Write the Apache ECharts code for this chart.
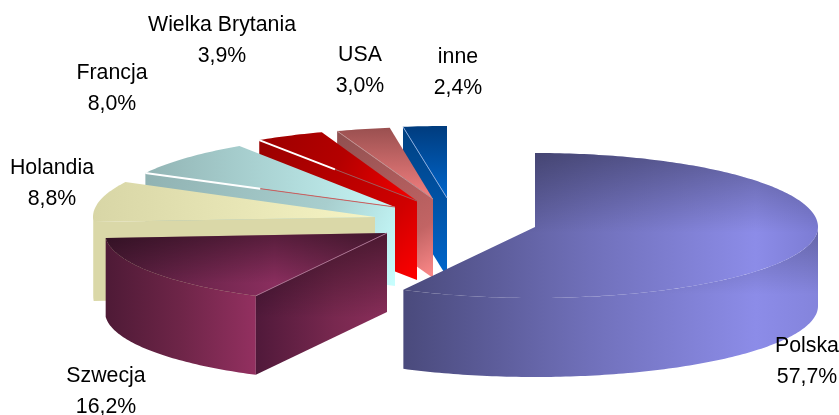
<!DOCTYPE html>
<html>
<head>
<meta charset="utf-8">
<style>html,body{margin:0;padding:0;background:#fff}#c{width:839px;height:415px}</style>
<script src="https://cdn.jsdelivr.net/npm/echarts@6/dist/echarts.min.js"></script>
</head>
<body>
<div id="c"></div>
<script>
// ---- data ----
const categories = ['Polska', 'Szwecja', 'Holandia', 'Francja', 'Wielka Brytania', 'USA', 'inne'];
const shares = [57.7, 16.2, 8.8, 8.0, 3.9, 3.0, 2.4];

// ---- layout (apex of each exploded slice, radii, label anchors) ----
const apexX = [535, 387, 375, 395, 417, 433, 447];
const apexY = [227, 233, 217, 207, 201, 199, 198];
const radiusX = [283, 282, 282, 282, 286, 288, 293];
const radiusBack = [74, 71, 75, 73, 73, 72, 72];
const radiusFront = 71, depth = 79;
const labelX = [807, 106, 52, 112, 222, 360, 458];
const labelY = [346, 376, 168, 73, 25, 55, 57];
const labelGap = 31;

// ---- styles ----
const H = [0, 0, 1, 0], V = [0, 0, 0, 1], D = [0, 0, 1, 1];
const topStyle = [
  [H, [[0, '#4a4a7c'], [.45, '#7070ba'], [.85, '#8c8ce8'], [1, '#7c7cd4']], .32, .55],
  [H, [[0, '#4e1b38'], [.6, '#8a2e5e'], [1, '#6a2548']], .38, .8],
  [H, [[0, '#d8d6a6'], [1, '#f6f4c4']], 0, 1],
  [H, [[0, '#92b4b4'], [1, '#c6f6f6']], 0, 1],
  [D, [[0, '#9c0000'], [.5, '#b40000'], [1, '#f80000']], 0, 1],
  [V, [[0, '#9a5050'], [1, '#f58080']], 0, 1],
  [V, [[0, '#003c7e'], [1, '#0066cc']], 0, 1]
];
const outerStyle = [
  [H, [[0, '#4a4a7c'], [.45, '#7070ba'], [.85, '#8c8ce8'], [1, '#8484dc']], .25, .45],
  [H, [[0, '#4e1a36'], [.5, '#6e2548'], [1, '#933060']], 0, 1],
  [H, [[0, '#dad8a8'], [1, '#dad8a8']], 0, 1],
  null, null, null, null
];
const sideStyle = [
  null,
  [H, [[0, '#50193a'], [.6, '#78284f'], [1, '#8a2e5a']], .45, .6],
  [H, [[0, '#dad8a8'], [1, '#dad8a8']], 0, 1],
  [D, [[0, '#90b2b2'], [.65, '#a8cece'], [1, '#c8ffff']], 0, 1],
  [D, [[0, '#980000'], [.72, '#d00000'], [1, '#ff0000']], 0, 1],
  [D, [[0, '#8f5050'], [.73, '#c26464'], [1, '#ff8a8a']], 0, 1],
  [V, [[0, '#004080'], [1, '#0066cc']], 0, 1]
];
// radial edge line between top and side: fraction drawn in first colour, then second colour
const edgeStyle = [
  null,
  [0, '#fff', 1, '#a87090', 1],
  null,
  [.46, '#fff', 2, '#c86060', 1],
  [.48, '#fff', 2, '#a05858', 1],
  [0, '#fff', 1, '#c09090', 1],
  [0, '#fff', 1, '#88aadd', 1]
];

const G = echarts.graphic;
const total = shares.reduce((a, b) => a + b, 0);
const toDeg = v => v / total * 360;

function point(i, deg, dz) {
  const r = deg * Math.PI / 180, c = Math.cos(r);
  return [apexX[i] + radiusX[i] * Math.sin(r), apexY[i] - (c > 0 ? radiusBack[i] : radiusFront) * c + (dz || 0)];
}
function arc(i, a, b, dz) {
  const pts = [];
  const n = Math.max(2, Math.ceil(Math.abs(b - a)));
  for (let k = 0; k <= n; k++) pts.push(point(i, a + (b - a) * k / n, dz));
  return pts;
}
function gradient(st) {
  return new G.LinearGradient(st[0][0], st[0][1], st[0][2], st[0][3],
    st[1].map(s => ({ offset: s[0], color: s[1] })));
}
function poly(points, st, z2) {
  const out = [{ type: 'polygon', z2, silent: true, shape: { points }, style: { fill: gradient(st) } }];
  if (st[2] > 0) out.push({
    type: 'polygon', z2: z2 + 1, silent: true, shape: { points },
    style: { fill: new G.LinearGradient(0, 0, 0, 1, [
      { offset: 0, color: 'rgba(0,0,0,' + st[2] + ')' },
      { offset: st[3], color: 'rgba(0,0,0,0)' },
      { offset: 1, color: 'rgba(0,0,0,0)' }
    ]) }
  });
  return out;
}

function renderItem(params, api) {
  const i = params.dataIndex;
  let start = 0;
  for (let k = 0; k < i; k++) start += toDeg(shares[k]);
  const end = start + toDeg(api.value(0));
  const base = (shares.length - i) * 20;
  const apex = [apexX[i], apexY[i]];
  let kids = [];

  // outer wall: only the part facing the viewer
  if (outerStyle[i]) {
    const a = Math.max(start, 90), b = Math.min(end, 270);
    if (b > a) kids = kids.concat(poly(arc(i, a, b, 0).concat(arc(i, b, a, depth)), outerStyle[i], base));
  }
  // radial wall at the slice's start angle
  if (sideStyle[i]) {
    const p = point(i, start, 0), q = point(i, start, depth);
    kids = kids.concat(poly([p, apex, [apex[0], apex[1] + depth], q], sideStyle[i], base + 2));
  }
  // top face
  kids = kids.concat(poly([apex].concat(arc(i, start, end, 0)), topStyle[i], base + 4));
  // radial edge highlight
  if (edgeStyle[i]) {
    const e = edgeStyle[i], p = point(i, start, 0);
    const m = [p[0] + (apex[0] - p[0]) * e[0], p[1] + (apex[1] - p[1]) * e[0]];
    if (e[0] > 0) kids.push({ type: 'line', z2: base + 7, silent: true,
      shape: { x1: p[0], y1: p[1], x2: m[0], y2: m[1] }, style: { stroke: e[1], lineWidth: e[2] } });
    kids.push({ type: 'line', z2: base + 6, silent: true,
      shape: { x1: m[0], y1: m[1], x2: apex[0], y2: apex[1] }, style: { stroke: e[3], lineWidth: e[4] } });
  }
  // labels
  const txt = (s, y) => ({ type: 'text', z2: 500, silent: true, x: labelX[i], y,
    style: { text: s, fill: '#000', font: '21.3px "Liberation Sans", Arial, sans-serif', align: 'center', verticalAlign: 'middle' } });
  kids.push(txt(categories[i], labelY[i]));
  kids.push(txt(api.value(0).toFixed(1).replace('.', ',') + '%', labelY[i] + labelGap));
  return { type: 'group', children: kids };
}

const chart = echarts.init(document.getElementById('c'), null, { renderer: 'canvas' });
chart.setOption({
  animation: false,
  backgroundColor: '#fff',
  series: [{
    type: 'custom',
    coordinateSystem: 'none',
    renderItem,
    data: shares.map(v => [v]),
    silent: true
  }]
});
</script>
</body>
</html>
